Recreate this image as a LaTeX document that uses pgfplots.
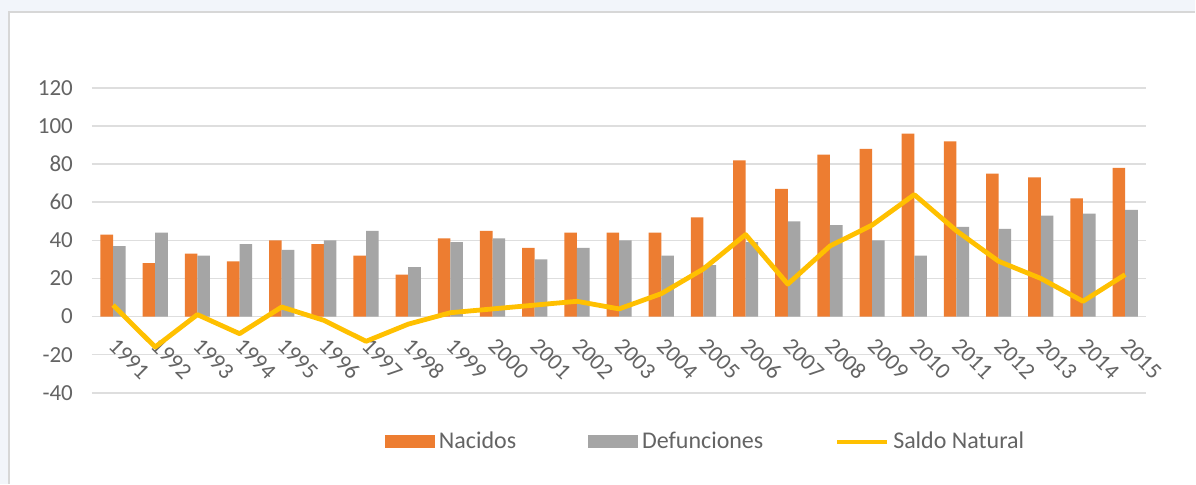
\documentclass[border=0pt]{standalone}
\usepackage{fontspec}
\setmainfont{Carlito}
\usepackage{pgfplots}
\usepackage{pgfplotstable}
\pgfplotsset{compat=1.18}

\definecolor{nacOrange}{RGB}{237,125,49}
\definecolor{defGray}{RGB}{165,165,165}
\definecolor{saldoYel}{RGB}{255,192,0}
\definecolor{txtGray}{RGB}{100,100,100}
\definecolor{gridGray}{RGB}{222,222,222}
\definecolor{bgTint}{RGB}{242,245,250}
\definecolor{frameGray}{RGB}{215,215,215}

% idx = position of the year, nac = births, def = deaths, sal = natural balance
\pgfplotstableread{
idx year nac def sal
0  1991 43 37 6
1  1992 28 44 -16
2  1993 33 32 1
3  1994 29 38 -9
4  1995 40 35 5
5  1996 38 40 -2
6  1997 32 45 -13
7  1998 22 26 -4
8  1999 41 39 2
9  2000 45 41 4
10 2001 36 30 6
11 2002 44 36 8
12 2003 44 40 4
13 2004 44 32 12
14 2005 52 27 25
15 2006 82 39 43
16 2007 67 50 17
17 2008 85 48 37
18 2009 88 40 48
19 2010 96 32 64
20 2011 92 47 45
21 2012 75 46 29
22 2013 73 53 20
23 2014 62 54 8
24 2015 78 56 22
}\datatable

\begin{document}
\begin{tikzpicture}
% page background and chart frame
\fill[bgTint] (-46pt,-45.5pt) rectangle (552pt,196.5pt);
\fill[white] (-41.5pt,-45.5pt) rectangle (552pt,190.5pt);
\draw[frameGray, line width=0.8pt] (-41.5pt,-45.5pt) -- (-41.5pt,190.5pt) -- (552pt,190.5pt);

\begin{axis}[
    scale only axis,
    width=527.5pt, height=152.5pt,
    xmin=-0.5, xmax=24.5,
    ymin=-40, ymax=120,
    xtick={0,...,24},
    xticklabels={1991,1992,1993,1994,1995,1996,1997,1998,1999,2000,2001,2002,2003,2004,2005,2006,2007,2008,2009,2010,2011,2012,2013,2014,2015},
    ytick={-40,-20,0,20,40,60,80,100,120},
    yticklabels={-40,-20,0,20,40,60,80,100,120},
    ymajorgrids,
    major grid style={gridGray, line width=0.8pt},
    axis line style={draw=none},
    tick style={draw=none},
    ticklabel style={font=\fontsize{11.5}{13}\selectfont, text=txtGray},
    yticklabel style={xshift=-6pt},
    xticklabel style={yshift=33pt, xshift=2.5pt, rotate=-45, anchor=north west},
    legend style={
        at={(0.583,-0.161)}, anchor=center,
        draw=none, fill=none,
        font=\fontsize{12}{14}\selectfont, text=txtGray,
        legend columns=3,
        /tikz/every even column/.append style={column sep=34pt},
    },
    legend cell align=left,
    clip=false,
]
\addplot[ybar, bar width=6.3pt, bar shift=-3.15pt, fill=nacOrange, draw=none,
    legend image code/.code={\fill[nacOrange] (0pt,-3.25pt) rectangle (25pt,3.25pt);}]
    table[x=idx, y=nac] {\datatable};
\addlegendentry{Nacidos}
\addplot[ybar, bar width=6.3pt, bar shift=3.15pt, fill=defGray, draw=none,
    legend image code/.code={\fill[defGray] (0pt,-3.25pt) rectangle (25pt,3.25pt);}]
    table[x=idx, y=def] {\datatable};
\addlegendentry{Defunciones}
\addplot[saldoYel, line width=2.4pt, mark=none, line join=round,
    legend image code/.code={\draw[saldoYel, line width=2pt] (0pt,0pt) -- (25pt,0pt);}]
    table[x=idx, y=sal] {\datatable};
\addlegendentry{Saldo Natural}
\end{axis}
\end{tikzpicture}
\end{document}
